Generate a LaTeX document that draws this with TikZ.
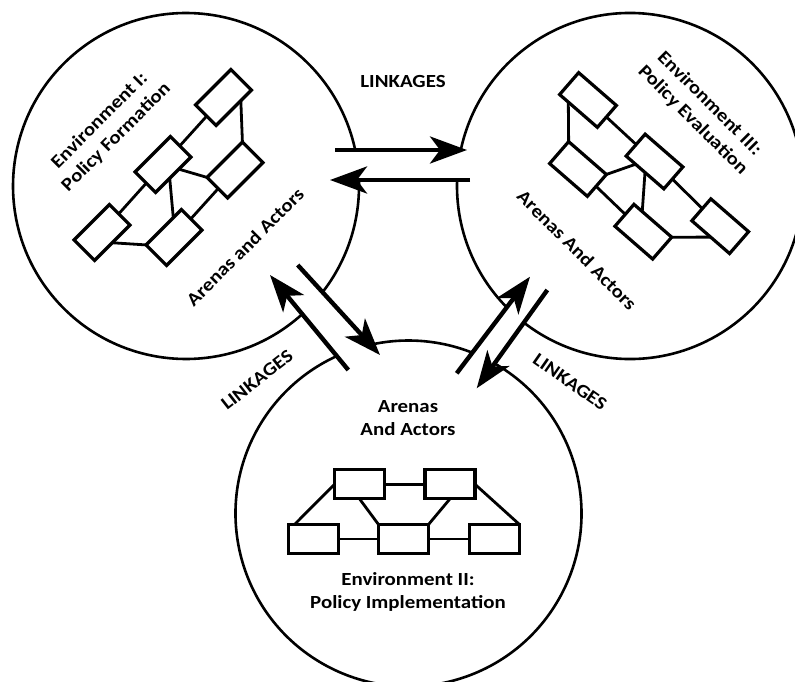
\documentclass[tikz,border=0pt]{standalone}
\usepackage{fontspec}
\setmainfont{Carlito}[FakeStretch=1.13]
\usetikzlibrary{arrows.meta,calc}
\pgfdeclarelayer{paper}
\pgfdeclarelayer{ties}
\pgfsetlayers{paper,ties,main}

\begin{document}
\begin{tikzpicture}[x=1pt,y=-1pt,
  ring/.style={line width=2.6pt},
  actor/.style={draw, line width=3.2pt, fill=white, minimum width=50pt,
    minimum height=29pt, inner sep=0pt, outer sep=0pt},
  tie/.style={line width=2.8pt},
  link/.style={line width=4.4pt, -{Stealth[length=37pt,width=27pt,inset=10pt]}},
  lbl/.style={font=\fontsize{18.5}{23.5}\selectfont\bfseries, align=center, inner sep=0pt},
]
\clip (0,0) rectangle (795,682);
\begin{pgfonlayer}{paper}
  \fill[white] (0,0) rectangle (795,682);
\end{pgfonlayer}

% ---- the three environments (arcs leave room for the linkages) ----
\draw[ring] (186,186) ++(-2:173) arc[start angle=-2, end angle=37.9, radius=173];
\draw[ring] (186,186) ++(47.8:173) arc[start angle=47.8, end angle=348, radius=173];

\draw[ring] (408.5,513.5) ++(-60.2:173) arc[start angle=-60.2, end angle=245.5, radius=173];
\draw[ring] (408.5,513.5) ++(257.3:173) arc[start angle=257.3, end angle=291.6, radius=173];

\draw[ring] (630,186) ++(135.5:173) arc[start angle=135.5, end angle=182, radius=173];
\draw[ring] (630,186) ++(192:173) arc[start angle=192, end angle=487.8, radius=173];

% ---- Environment I: arenas and actors ----
\node[actor, rotate=45] (fa) at (223.5,97.5) {};
\node[actor, rotate=45] (fb) at (163,164.5) {};
\node[actor, rotate=45] (fc) at (235,170) {};
\node[actor, rotate=45] (fd) at (102,232.5) {};
\node[actor, rotate=45] (fe) at (174,237.5) {};

% ---- Environment III: arenas and actors ----
\node[actor, rotate=-41] (ea) at (588,100) {};
\node[actor, rotate=-41] (eb) at (654.5,161.5) {};
\node[actor, rotate=-41] (ec) at (578,169) {};
\node[actor, rotate=-41] (ed) at (643.3,231.7) {};
\node[actor, rotate=-41] (ee) at (720.2,226.2) {};

% ---- Environment II: arenas and actors ----
\node[actor] (ta) at (359.5,484.3) {};
\node[actor] (tb) at (450,484.3) {};
\node[actor] (tc) at (313.5,539) {};
\node[actor] (td) at (403.5,539) {};
\node[actor] (te) at (494.5,539) {};

\begin{pgfonlayer}{ties}
  % Environment I
  \draw[tie] (fd.center) -- (fb.center);
  \draw[tie] (fb.center) -- (fa.center);
  \draw[tie] (fe.center) -- (fc.center);
  \draw[tie] (fb.center) -- (fc.north west);
  \draw[tie] ($(fb.south east)!0.6!(fb.south west)$) -- ($(fe.north east)!0.23!(fe.north west)$);
  \draw[tie] (fd.south) -- (fe.north west);
  \draw[tie] ($(fa.south east)!0.3!(fa.south west)$) -- (fc.north east);
  % Environment III
  \draw[tie] (ea.center) -- (eb.center);
  \draw[tie] (eb.center) -- (ee.center);
  \draw[tie] (ec.center) -- (ed.center);
  \draw[tie] ($(ea.south west)!0.23!(ea.south east)$) -- (ec.north west);
  \draw[tie] (ec.north east) -- ($(eb.south west)!0.25!(eb.south east)$);
  \draw[tie] (eb.south) -- ($(ed.north west)!0.22!(ed.north east)$);
  \draw[tie] (ed.north east) -- (ee.south);
  % Environment II
  \draw[tie] (ta.center) -- (tb.center);
  \draw[tie] (tc.center) -- (td.center);
  \draw[tie] (td.center) -- (te.center);
  \draw[tie] (ta.west) -- ($(tc.north west)!0.12!(tc.north east)$);
  \draw[tie] (tb.east) -- (te.north east);
  \draw[tie] (ta.south) -- (td.north west);
  \draw[tie] (tb.south) -- (td.north east);
\end{pgfonlayer}

% ---- labels ----
\node[lbl, rotate=45] (envI) at (108,129) {Environment I:\\Policy Formation};
\node[lbl, rotate=45] (arI) at (245,247) {Arenas and Actors};
\node[lbl, rotate=-45] (envIII) at (701,112) {Environment III:\\Policy Evaluation};
\node[lbl, rotate=-45] (arIII) at (577,250) {Arenas And Actors};
\node[lbl] (arII) at (408,418) {Arenas\\And Actors};
\node[lbl] (envII) at (408,592) {Environment II:\\Policy Implementation};
\node[lbl] (lkTop) at (403,81) {LINKAGES};
\node[lbl, rotate=38] (lkLeft) at (257,380) {LINKAGES};
\node[lbl, rotate=-35] (lkRight) at (570,382) {LINKAGES};

% ---- linkages between the environments ----
\coordinate (p1) at (335,150);   \coordinate (q1) at (467,150);
\coordinate (p2) at (470,180);   \coordinate (q2) at (330,180);
\coordinate (p3) at (348.3,370); \coordinate (q3) at (270,275);
\coordinate (p4) at (297.7,265); \coordinate (q4) at (380,355);
\coordinate (p5) at (456.7,373.3); \coordinate (q5) at (530,276.7);
\coordinate (p6) at (547.3,290); \coordinate (q6) at (476.7,388.3);

\draw[link] (p1) -- (q1);
\draw[link] (p2) -- (q2);
\draw[link] (p3) -- (q3);
\draw[link] (p4) -- (q4);
\draw[link] (p5) -- (q5);
\draw[link] (p6) -- (q6);
\end{tikzpicture}
\end{document}
